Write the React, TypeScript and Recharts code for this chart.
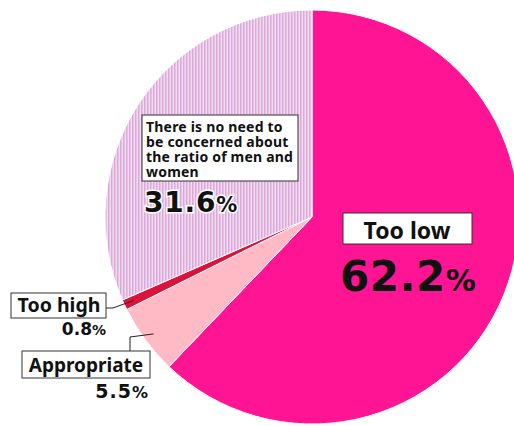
import { PieChart, Pie, Cell } from 'recharts';

const categories = [
  'Too low',
  'Appropriate',
  'Too high',
  'There is no need to be concerned about the ratio of men and women',
];
const values = [62.2, 5.5, 0.8, 31.6];
const valueLabels = ['62.2', '5.5', '0.8', '31.6'];
const boxLines = [
  ['Too low'],
  ['Appropriate'],
  ['Too high'],
  ['There is no need to', 'be concerned about', 'the ratio of men and', 'women'],
];
const COLORS = ['#FF1493', '#FFBAC6', '#DC143C', 'url(#stripes)'];

const data = categories.map((name, i) => ({ name, value: values[i] }));

const RADIAN = Math.PI / 180;
const LABEL_FONT = '"Noto Sans", sans-serif';
const NUM_FONT = '"DejaVu Sans", sans-serif';

const renderLabel = (props: any) => {
  const { cx, cy, midAngle, outerRadius, index } = props;
  const ax = cx + (outerRadius - 10) * Math.cos(-midAngle * RADIAN);
  const ay = cy + (outerRadius - 10) * Math.sin(-midAngle * RADIAN);
  const box = { stroke: '#333', strokeWidth: 1, fill: '#fff' };
  const halo = { stroke: '#fff', strokeWidth: 3, paintOrder: 'stroke' as any };

  if (index === 0) {
    return (
      <g key="l0">
        <rect x={cx + 31} y={cy - 4} width={129} height={31} {...box} />
        <text x={cx + 95} y={cy + 22} textAnchor="middle" fontFamily={LABEL_FONT} fontWeight="bold" fontSize={23} fill="#111">
          {boxLines[0][0]}
        </text>
        <text x={cx + 28} y={cy + 74} fontFamily={NUM_FONT} fontWeight="bold" fontSize={42} fill="#111" letterSpacing={0.5}>
          {valueLabels[0]}
          <tspan fontSize={30} letterSpacing={0}>%</tspan>
        </text>
      </g>
    );
  }
  if (index === 3) {
    return (
      <g key="l3">
        <rect x={cx - 170} y={cy - 102} width={156} height={66} {...box} />
        {boxLines[3].map((line, i) => (
          <text key={i} x={cx - 166} y={cy - 85 + i * 15} fontFamily={LABEL_FONT} fontWeight="bold" fontSize={14} letterSpacing={0.2} fill="#111">
            {line}
          </text>
        ))}
        <text x={cx - 168} y={cy - 5} fontFamily={NUM_FONT} fontWeight="bold" fontSize={28} fill="#111" letterSpacing={0.8} {...halo}>
          {valueLabels[3]}
          <tspan fontSize={21} letterSpacing={0}>%</tspan>
        </text>
      </g>
    );
  }
  if (index === 2) {
    return (
      <g key="l2">
        <polyline points={`${ax},${ay} ${cx - 199},${cy + 91} ${cx - 206},${cy + 91}`} fill="none" stroke="#222" strokeWidth={1} />
        <rect x={cx - 301} y={cy + 76} width={95} height={25} {...box} />
        <text x={cx - 253} y={cy + 95} textAnchor="middle" fontFamily={LABEL_FONT} fontWeight="bold" fontSize={19.5} fill="#111">
          {boxLines[2][0]}
        </text>
        <text x={cx - 206} y={cy + 118} textAnchor="end" fontFamily={NUM_FONT} fontWeight="bold" fontSize={17} fill="#111">
          {valueLabels[2]}
          <tspan fontSize={14}>%</tspan>
        </text>
      </g>
    );
  }
  return (
    <g key="l1">
      <polyline points={`${ax},${ay} ${cx - 182},${cy + 120} ${cx - 182},${cy + 134}`} fill="none" stroke="#222" strokeWidth={1} />
      <rect x={cx - 290} y={cy + 134} width={128} height={27} {...box} />
      <text x={cx - 226} y={cy + 155} textAnchor="middle" fontFamily={LABEL_FONT} fontWeight="bold" fontSize={19} fill="#111">
        {boxLines[1][0]}
      </text>
      <text x={cx - 164} y={cy + 181} textAnchor="end" fontFamily={NUM_FONT} fontWeight="bold" fontSize={19} fill="#111" letterSpacing={1}>
        {valueLabels[1]}
        <tspan fontSize={16} letterSpacing={0}>%</tspan>
      </text>
    </g>
  );
};

export default function App() {
  return (
    <div style={{ position: 'absolute', left: 0, top: 0, width: 514, height: 426, background: '#fff' }}>
      <style>{`.recharts-pie-sectors { filter: drop-shadow(3px 3px 2px rgba(0,0,0,0.22)); }`}</style>
      <PieChart width={514} height={426} margin={{ top: 0, right: 0, bottom: 0, left: 0 }}>
        <defs>
          <pattern id="stripes" width={3} height={4} patternUnits="userSpaceOnUse">
            <rect x={0} y={0} width={3} height={4} fill="#F0DCF0" />
            <rect x={0} y={0} width={1.5} height={4} fill="#DCA8DA" />
          </pattern>
        </defs>
        <Pie
          data={data}
          dataKey="value"
          nameKey="name"
          cx={312}
          cy={217}
          outerRadius={207}
          startAngle={90}
          endAngle={-270}
          stroke="#fff"
          strokeWidth={1}
          label={renderLabel}
          labelLine={false}
          isAnimationActive={false}
        >
          {data.map((entry, index) => (
            <Cell key={`cell-${index}`} fill={COLORS[index % COLORS.length]} />
          ))}
        </Pie>
      </PieChart>
    </div>
  );
}
